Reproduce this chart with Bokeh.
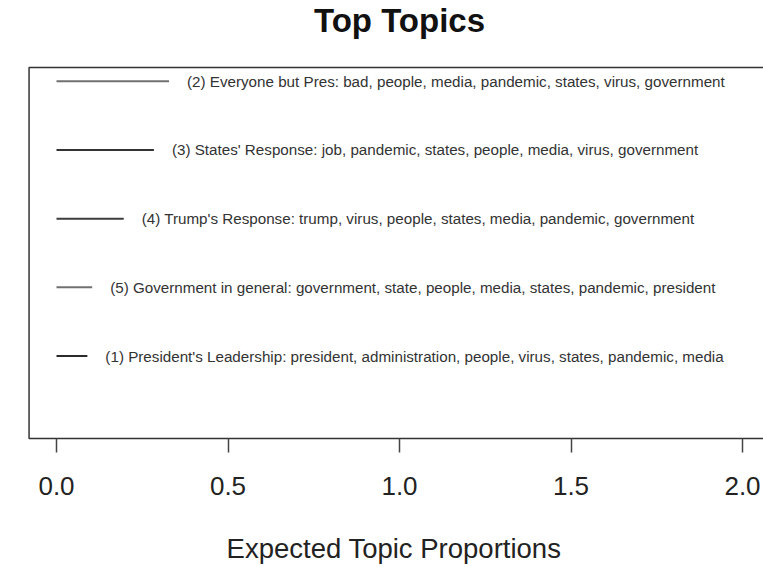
from bokeh.plotting import figure
from bokeh.models import ColumnDataSource, Range1d, FixedTicker, PrintfTickFormatter, Label
from bokeh.core.properties import value
from bokeh.embed import file_html
from bokeh.resources import INLINE

# ---- data ----
title_text = "Top Topics"
topic_labels = [
    "(2) Everyone but Pres: bad, people, media, pandemic, states, virus, government",
    "(3) States' Response: job, pandemic, states, people, media, virus, government",
    "(4) Trump's Response: trump, virus, people, states, media, pandemic, government",
    "(5) Government in general: government, state, people, media, states, pandemic, president",
    "(1) President's Leadership: president, administration, people, virus, states, pandemic, media",
]
topic_props = [0.328, 0.284, 0.196, 0.104, 0.090]
topic_rank = [5, 4, 3, 2, 1]
line_colors = ["#707070", "#333333", "#3c3c3c", "#707070", "#2a2a2a"]
x_ticks = [0.0, 0.5, 1.0, 1.5, 2.0]
xlim = [0.0, 2.0]
ylim = [0.0, 5.0]

FONT = "Liberation Sans"

# R-style 4% axis expansion for the box
xpad = 0.04 * (xlim[1] - xlim[0])
ypad = 0.04 * (ylim[1] - ylim[0])
box_l, box_r = xlim[0] - xpad, xlim[1] + xpad
box_b, box_t = ylim[0] - ypad, ylim[1] + ypad

src = ColumnDataSource(dict(
    label=topic_labels,
    prop=topic_props,
    rank=topic_rank,
    zero=[0.0] * len(topic_props),
    color=line_colors,
))

W, H = 763, 567
# frame reaches the top of the canvas so the main title can sit inside it
p = figure(
    width=W, height=H,
    output_backend="svg", toolbar_location=None,
    x_range=Range1d(-0.0933, 2.0612), y_range=Range1d(-0.258, 6.175),
    min_border_left=24, min_border_right=0, min_border_top=0, min_border_bottom=125,
)
p.outline_line_color = None
p.background_fill_color = "white"
p.border_fill_color = "white"
p.xgrid.visible = False
p.ygrid.visible = False
p.yaxis.visible = False

# main title centred over the plotting region (like R's main title)
p.add_layout(Label(
    x=(xlim[0] + xlim[1]) / 2, y=5.88,
    text=title_text, text_align="center", text_baseline="alphabetic",
    text_font=FONT, text_font_size="33px", text_font_style="bold",
    text_color="#111111",
))

# plot box (right side runs past the visible area, as in the reference)
p.quad(left=[box_l], right=[box_r], bottom=[box_b], top=[box_t],
       fill_color=None, line_color="#333333", line_width=1.5)

p.segment(x0="zero", y0="rank", x1="prop", y1="rank", source=src,
          line_color="color", line_width=2)
p.text(x="prop", y="rank", text="label", source=src, x_offset=18,
       text_baseline="middle", text_align="left",
       text_font=value(FONT), text_font_size="15.2px", text_color="#333333")

ax = p.xaxis[0]
ax.ticker = FixedTicker(ticks=x_ticks)
ax.formatter = PrintfTickFormatter(format="%.1f")
ax.axis_line_color = None
ax.major_tick_in = 4
ax.major_tick_out = 10
ax.major_tick_line_color = "#444444"
ax.major_tick_line_width = 1.5
ax.minor_tick_line_color = None
ax.major_label_text_font = FONT
ax.major_label_text_font_size = "26px"
ax.major_label_text_color = "#222222"
ax.major_label_standoff = 24
ax.axis_label = "Expected Topic Proportions"
ax.axis_label_text_font = FONT
ax.axis_label_text_font_size = "27.5px"
ax.axis_label_text_font_style = "normal"
ax.axis_label_text_color = "#222222"
ax.axis_label_standoff = 35

open("out.html", "w").write(file_html(p, INLINE))
